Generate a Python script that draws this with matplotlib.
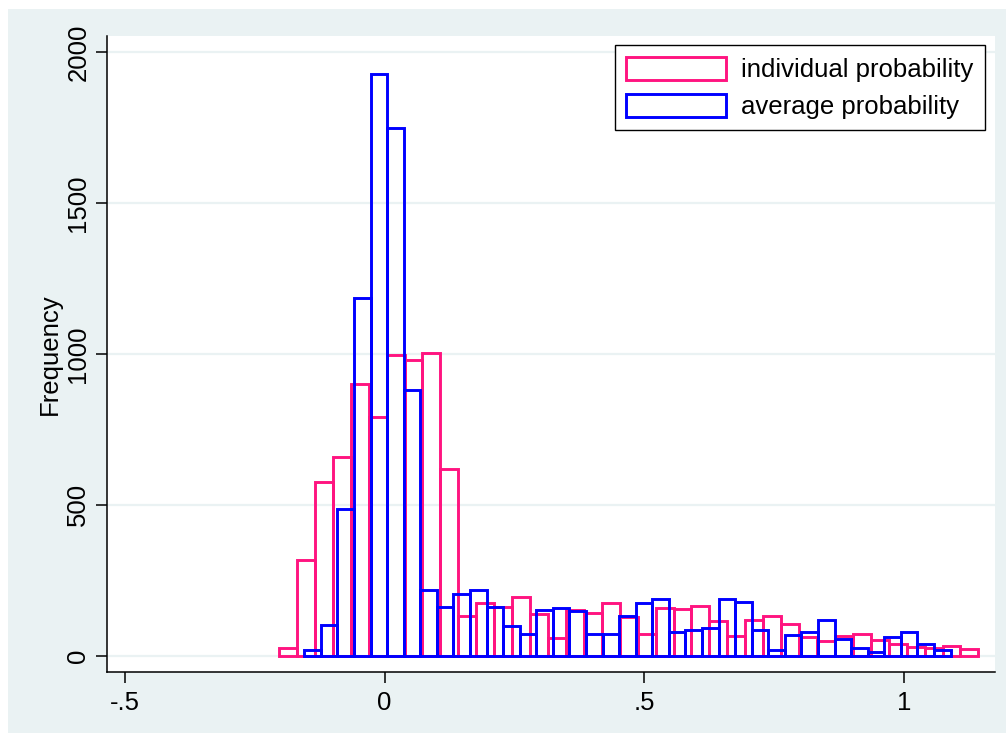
import matplotlib.pyplot as plt
import numpy as np
from matplotlib.patches import Rectangle

plt.rcParams['font.family'] = ['Liberation Sans', 'DejaVu Sans']

# histogram bins: first left edge, bin width and counts per bin
ind_start = -0.2030
ind_width = 0.0345
ind_freq = [25, 318, 577, 658, 900, 790, 997, 980, 1002, 618,
            130, 176, 160, 196, 139, 58, 151, 143, 176, 128,
            72, 158, 156, 166, 114, 66, 117, 130, 106, 62,
            50, 64, 73, 53, 39, 29, 25, 31, 23]

avg_start = -0.1543
avg_width = 0.03188
avg_freq = [18, 103, 486, 1186, 1929, 1749, 881, 218, 163, 205,
            218, 163, 97, 72, 150, 157, 147, 72, 72, 132,
            174, 188, 78, 86, 92, 188, 177, 86, 20, 67,
            80, 117, 56, 25, 12, 62, 80, 39, 20]

series_labels = ["individual probability", "average probability"]
xtick_vals = [-0.5, 0, 0.5, 1]
xtick_labels = ["-.5", "0", ".5", "1"]
ytick_vals = [0, 500, 1000, 1500, 2000]
ytick_labels = ["0", "500", "1000", "1500", "2000"]

bg = '#EAF2F3'
pink = '#FF1480'
blue = '#0000FF'
fs = 18.5

W, H = 1006, 738
fig = plt.figure(figsize=(W / 100, H / 100), dpi=100)
# graph region band behind the axes
fig.patches.append(Rectangle((8 / W, 1 - 733 / H), 1 - 8 / W, (733 - 9) / H,
                             transform=fig.transFigure, facecolor=bg,
                             edgecolor='none', zorder=-10))

ax = fig.add_axes([107 / W, 1 - 672 / H, (995 - 107) / W, (672 - 36) / H])
ax.set_zorder(1)
ax.set_facecolor('white')

ind_left = ind_start + ind_width * np.arange(len(ind_freq))
avg_left = avg_start + avg_width * np.arange(len(avg_freq))

ax.bar(ind_left, ind_freq, width=ind_width, align='edge', fill=False,
       edgecolor=pink, linewidth=2.1, label=series_labels[0], zorder=2)
ax.bar(avg_left, avg_freq, width=avg_width, align='edge', fill=False,
       edgecolor=blue, linewidth=2.1, label=series_labels[1], zorder=3)

ax.set_xlim(-0.5339, 1.1745)
ax.set_ylim(-54, 2054)

ax.set_xticks(xtick_vals)
ax.set_xticklabels(xtick_labels)
ax.set_yticks(ytick_vals)
ax.set_yticklabels(ytick_labels)

ax.yaxis.grid(True, color=bg, linewidth=1.6)
ax.set_axisbelow(True)

for side in ['top', 'right']:
    ax.spines[side].set_visible(False)
for side in ['left', 'bottom']:
    ax.spines[side].set_linewidth(1.1)
    ax.spines[side].set_color('black')

ax.tick_params(direction='out', length=8, width=1.1, pad=6,
               labelsize=fs, colors='black')
ax.tick_params(axis='y', labelrotation=90, pad=4)
for lab in ax.get_yticklabels():
    lab.set_va('center')

ax.set_ylabel("Frequency", fontsize=fs, labelpad=3)

leg = ax.legend(loc='upper right', bbox_to_anchor=(985 / W, 1 - 45 / H),
                bbox_transform=fig.transFigure, borderaxespad=0,
                frameon=True, fancybox=False, edgecolor='black',
                framealpha=1, handlelength=3.9, handleheight=1.01,
                handletextpad=0.58, labelspacing=0.45, borderpad=0.45,
                fontsize=fs)
leg.get_frame().set_linewidth(1.0)

fig.savefig('out.png', dpi=100)
